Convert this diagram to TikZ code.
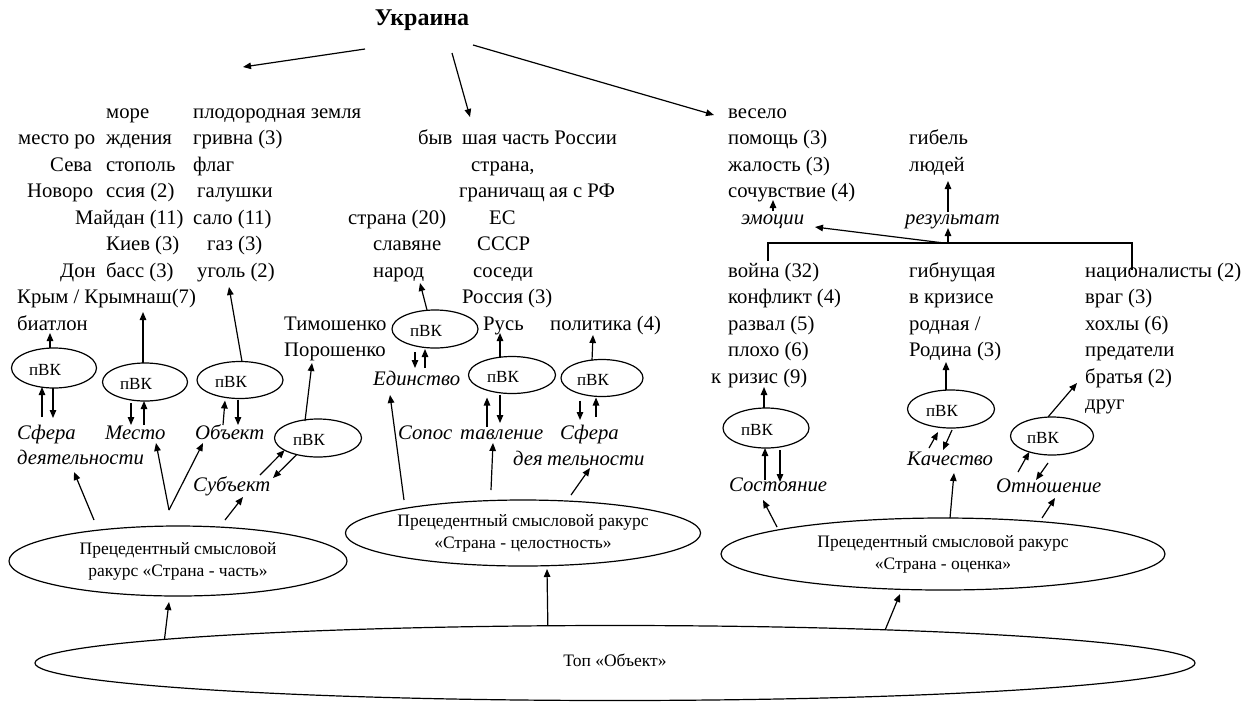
\documentclass[tikz,border=0pt]{standalone}
\usepackage{fontspec}
\setmainfont{Liberation Serif}
\usetikzlibrary{arrows.meta,shapes.geometric}
\begin{document}
\begin{tikzpicture}[x=1pt,y=-1pt,
 t/.style={anchor=base west,inner sep=0pt,font=\fontsize{20.7}{24}\selectfont},
 ti/.style={anchor=base west,inner sep=0pt,font=\fontsize{20.7}{24}\selectfont\itshape},
 pvk/.style={ellipse,draw,line width=1.2pt,inner sep=0pt,outer sep=0pt,minimum width=85pt,minimum height=38pt,
   label={[xshift=-9pt,yshift=-2pt,font=\fontsize{17}{20}\selectfont]center:пВК}},
 big/.style={ellipse,draw,line width=1.2pt,inner sep=0pt,outer sep=0pt,align=center,font=\fontsize{17.5}{22}\selectfont},
 arr/.style={-{Triangle[length=8pt,width=6.5pt]},line width=1.2pt},
 ln/.style={line width=1.2pt}]
\useasboundingbox (0,0) rectangle (1246,702);

% title
\node[inner sep=0pt,font=\bfseries\fontsize{24}{26}\selectfont] (ukr) at (422,20) {Украина};

% left cluster
\node[t] (more) at (106,118) {море};
\node[t] (plod) at (193,118) {плодородная земля};
\node[t] (mr1) at (18,144.5) {место ро};
\node[t] (mr2) at (106,144.5) {ждения};
\node[t] (grv) at (193,144.5) {гривна (3)};
\node[t] (sev1) at (50,171) {Сева};
\node[t] (sev2) at (106,171) {стополь};
\node[t] (flag) at (193,171) {флаг};
\node[t] (nov1) at (27,197.5) {Новоро};
\node[t] (nov2) at (106,197.5) {ссия (2)};
\node[t] (gal) at (197,197.5) {галушки};
\node[t] (maid) at (75,224) {Майдан (11)};
\node[t] (salo) at (193,224) {сало (11)};
\node[t] (kiev) at (106,250.5) {Киев (3)};
\node[t] (gaz) at (207,250.5) {газ (3)};
\node[t] (don1) at (60,277) {Дон};
\node[t] (don2) at (106,277) {басс (3)};
\node[t] (ugol) at (197,277) {уголь (2)};
\node[t] (krym) at (17,303.5) {Крым / Крымнаш(7)};
\node[t] (biat) at (17,330) {биатлон};

% middle cluster
\node[t] (byv1) at (418,144.5) {быв};
\node[t] (byv2) at (462,144.5) {шая часть России};
\node[t] (str1) at (471,171) {страна,};
\node[t] (gr1) at (459,197.5) {граничащ};
\node[t] (gr2) at (549,197.5) {ая с РФ};
\node[t] (str20) at (348,224) {страна (20)};
\node[t] (es) at (489,224) {ЕС};
\node[t] (slav) at (373,250.5) {славяне};
\node[t] (sssr) at (477,250.5) {СССР};
\node[t] (narod) at (373,277) {народ};
\node[t] (sosedi) at (473,277) {соседи};
\node[t] (ross) at (462,303.5) {Россия (3)};
\node[t] (tim) at (284,330) {Тимошенко};
\node[t] (rus) at (483,330) {Русь};
\node[t] (pol) at (550,330) {политика (4)};
\node[t] (por) at (284,356.5) {Порошенко};

% right cluster
\node[t] (ves) at (728,118) {весело};
\node[t] (pom) at (728,144.5) {помощь (3)};
\node[t] (gib) at (909,144.5) {гибель};
\node[t] (zhal) at (728,171) {жалость (3)};
\node[t] (lud) at (909,171) {людей};
\node[t] (soch) at (728,197.5) {сочувствие (4)};
\node[ti] (emo) at (741,224) {эмоции};
\node[ti] (rez) at (905,224) {результат};
\node[t] (voyna) at (728,277) {война (32)};
\node[t] (gibn) at (909,277) {гибнущая};
\node[t] (nac) at (1085,277) {националисты (2)};
\node[t] (konf) at (728,303.5) {конфликт (4)};
\node[t] (vkr) at (909,303.5) {в кризисе};
\node[t] (vrag) at (1085,303.5) {враг (3)};
\node[t] (razv) at (728,330) {развал (5)};
\node[t] (rodn) at (909,330) {родная /};
\node[t] (hoh) at (1085,330) {хохлы (6)};
\node[t] (ploh) at (728,356.5) {плохо (6)};
\node[t] (rodi) at (909,356.5) {Родина (3)};
\node[t] (pred) at (1085,356.5) {предатели};
\node[t] (kr1) at (711,383) {к};
\node[t] (kr2) at (728,383) {ризис (9)};
\node[t] (brat) at (1085,383) {братья (2)};
\node[t] (drug) at (1085,409.5) {друг};

% italic category labels
\node[ti] (sf1) at (17,439) {Сфера};
\node[ti] (sf1b) at (17,464) {деятельности};
\node[ti] (mesto) at (105,439) {Место};
\node[ti] (obj) at (195,439) {Объект};
\node[ti] (subj) at (193,491) {Субъект};
\node[ti] (edin) at (373,385) {Единство};
\node[ti] (sop1) at (398,439) {Сопос};
\node[ti] (sop2) at (460,439) {тавление};
\node[ti] (sf2) at (560,439) {Сфера};
\node[ti] (sf2b) at (513,465) {дея};
\node[ti] (sf2c) at (547,465) {тельности};
\node[ti] (sost) at (729,491) {Состояние};
\node[ti] (kach) at (907,465) {Качество};
\node[ti] (otn) at (996,492) {Отношение};

% pVK ellipses
\node[pvk,minimum height=40pt] (pv1) at (54,368) {};
\node[pvk] (pv2) at (145,382) {};
\node[pvk,minimum width=86pt,minimum height=37pt] (pv3) at (240,380) {};
\node[pvk,minimum width=87pt] (pv4) at (318,438) {};
\node[pvk,minimum width=86pt] (pv5) at (435,329) {};
\node[pvk,minimum width=87pt,minimum height=37pt] (pv6) at (512,375) {};
\node[pvk,minimum width=82pt,minimum height=37pt] (pv7) at (602,378) {};
\node[pvk,minimum width=86pt,minimum height=40pt] (pv8) at (766,428) {};
\node[pvk,minimum width=87pt] (pv9) at (951,409) {};
\node[pvk,minimum width=83pt] (pv10) at (1052,436) {};

% big ellipses
\node[big,minimum width=338pt,minimum height=70pt] (A) at (178,561) {Прецедентный смысловой\\ракурс «Страна - часть»};
\node[big,minimum width=354pt,minimum height=66pt] (B) at (523,533) {Прецедентный смысловой ракурс\\«Страна - целостность»};
\node[big,minimum width=444pt,minimum height=72pt] (C) at (943,554) {Прецедентный смысловой ракурс\\«Страна - оценка»};
\node[big,minimum width=1160pt,minimum height=75pt] (top) at (615,663) {};
\node[inner sep=0pt,font=\fontsize{17.5}{22}\selectfont] (toptxt) at (615,660) {Топ «Объект»};

% coordinates for free arrow ends
\coordinate (u1s) at (365,49);  \coordinate (u1e) at (243,67);
\coordinate (u2s) at (452,53);  \coordinate (u2e) at (470,117);
\coordinate (u3s) at (473,45);  \coordinate (u3e) at (714,115);

\coordinate (tAe) at (169,602);
\coordinate (tBe) at (547,569);
\coordinate (tCe) at (900,594);

\coordinate (a1s) at (94,520);  \coordinate (a1e) at (74,472);
\coordinate (a2s) at (169,510); \coordinate (a2e) at (156,443); \coordinate (a3e) at (203,443);
\coordinate (a4s) at (225,520); \coordinate (a4e) at (243,497);
\coordinate (b1s) at (404,500); \coordinate (b1e) at (390,395);
\coordinate (b2s) at (491,490); \coordinate (b2e) at (493,443);
\coordinate (b3s) at (571,495); \coordinate (b3e) at (590,468);
\coordinate (c1s) at (777,527); \coordinate (c1e) at (763,500);
\coordinate (c2s) at (950,518); \coordinate (c2e) at (954,473);
\coordinate (c3s) at (1042,518); \coordinate (c3e) at (1055,498);

\coordinate (p1e) at (50,333);
\coordinate (p2e) at (143,312);
\coordinate (p3e) at (229,287);
\coordinate (p4e) at (312,363);
\coordinate (p5e) at (420,283);
\coordinate (p6e) at (500,333);
\coordinate (p7e) at (593,335);
\coordinate (p8e) at (764,387);
\coordinate (p9e) at (946,362);
\coordinate (p10e) at (1077,383);

\coordinate (s1a) at (42,417);  \coordinate (s1b) at (53,418);
\coordinate (m1a) at (131,425); \coordinate (m1b) at (144,425);
\coordinate (o1a) at (223,425); \coordinate (o1b) at (238,425);
\coordinate (su1a) at (260,475); \coordinate (su1b) at (273,478);
\coordinate (e1a) at (415,368); \coordinate (e1b) at (425,368);
\coordinate (sp1a) at (487,427); \coordinate (sp1b) at (500,423);
\coordinate (sf2a) at (580,420); \coordinate (sf2d) at (596,417);
\coordinate (so1a) at (765,480); \coordinate (so1b) at (780,482);
\coordinate (ka1a) at (929,448); \coordinate (ka1b) at (943,450);
\coordinate (ot1a) at (1018,472); \coordinate (ot1b) at (1036,480);

\coordinate (brL) at (768,261); \coordinate (brLt) at (768,243);
\coordinate (brR) at (1132,270); \coordinate (brRt) at (1132,243);
\coordinate (brM) at (948,243); \coordinate (brM2) at (944,243);
\coordinate (rezE) at (948,228); \coordinate (emoE) at (815,227);
\coordinate (rezT) at (948,212); \coordinate (ludE) at (948,181);
\coordinate (emoT) at (773,211); \coordinate (sochE) at (773,200);

% arrows from title
\draw[arr] (u1s) -- (u1e);
\draw[arr] (u2s) -- (u2e);
\draw[arr] (u3s) -- (u3e);

% from Top ellipse
\draw[arr] (top.177) -- (tAe);
\draw[arr] (top.151) -- (tBe);
\draw[arr] (top.7) -- (tCe);

% from big ellipses to categories
\draw[arr] (a1s) -- (a1e);
\draw[arr] (a2s) -- (a2e);
\draw[arr] (a2s) -- (a3e);
\draw[arr] (a4s) -- (a4e);
\draw[arr] (b1s) -- (b1e);
\draw[arr] (b2s) -- (b2e);
\draw[arr] (b3s) -- (b3e);
\draw[arr] (c1s) -- (c1e);
\draw[arr] (c2s) -- (c2e);
\draw[arr] (c3s) -- (c3e);

% from pVK upward
\draw[arr] ([xshift=-4pt]pv1.north) -- (p1e);
\draw[arr] ([xshift=-2pt]pv2.north) -- (p2e);
\draw[arr] ([xshift=2pt]pv3.north) -- (p3e);
\draw[arr] ([xshift=-13pt,yshift=-2pt]pv4.north) -- (p4e);
\draw[arr] ([xshift=-8pt]pv5.north) -- (p5e);
\draw[arr] ([xshift=-12pt,yshift=-1pt]pv6.north) -- (p6e);
\draw[arr] ([xshift=-10pt,yshift=-1pt]pv7.north) -- (p7e);
\draw[arr] ([xshift=-2pt]pv8.north) -- (p8e);
\draw[arr] ([xshift=-5pt]pv9.north) -- (p9e);
\draw[arr] ([xshift=-4pt]pv10.north) -- (p10e);

% double arrows between categories and pVK
\draw[arr] (s1a) -- ([xshift=-12pt,yshift=1pt]pv1.south);
\draw[arr] ([xshift=-1pt]pv1.south) -- (s1b);
\draw[arr] ([xshift=-14pt,yshift=-2pt]pv2.south) -- (m1a);
\draw[arr] (m1b) -- ([xshift=-1pt]pv2.south);
\draw[arr] (o1a) -- ([xshift=-15pt,yshift=-2pt]pv3.south);
\draw[arr] ([xshift=-2pt,yshift=-1pt]pv3.south) -- (o1b);
\draw[arr] (su1a) -- (pv4.200);
\draw[arr] (pv4.218) -- (su1b);
\draw[arr] ([xshift=-20pt,yshift=-4pt]pv5.south) -- (e1a);
\draw[arr] (e1b) -- ([xshift=-10pt,yshift=-1pt]pv5.south);
\draw[arr] (sp1a) -- ([xshift=-25pt,yshift=-4pt]pv6.south);
\draw[arr] ([xshift=-12pt,yshift=-1pt]pv6.south) -- (sp1b);
\draw[arr] ([xshift=-22pt,yshift=-4pt]pv7.south) -- (sf2a);
\draw[arr] (sf2d) -- ([xshift=-6pt,yshift=-1pt]pv7.south);
\draw[arr] (so1a) -- ([xshift=-1pt]pv8.south);
\draw[arr] ([xshift=14pt,yshift=-2pt]pv8.south) -- (so1b);
\draw[arr] (ka1a) -- ([xshift=-13pt,yshift=-4pt]pv9.south);
\draw[arr] ([xshift=1pt,yshift=-2pt]pv9.south) -- (ka1b);
\draw[arr] (ot1a) -- (pv10.215);
\draw[arr] ([xshift=-4pt,yshift=-8pt]pv10.south) -- (ot1b);

% bracket and result arrows
\draw[ln] (brL) -- (brLt) -- (brRt) -- (brR);
\draw[arr] (brM) -- (rezE);
\draw[arr] (brM2) -- (emoE);
\draw[arr] (rezT) -- (ludE);
\draw[arr] (emoT) -- (sochE);
\end{tikzpicture}
\end{document}
